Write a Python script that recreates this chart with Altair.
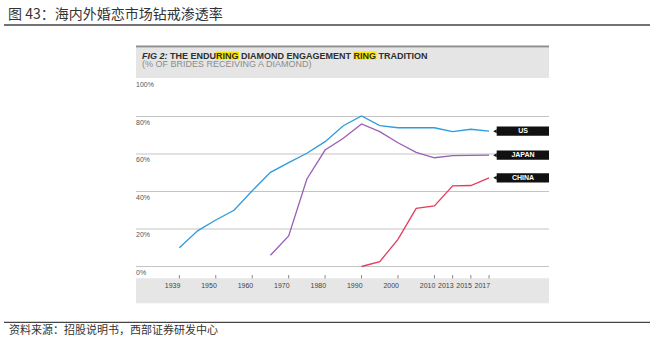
import altair as alt
import pandas as pd

# ---------------- data ----------------
positions = list(range(18))
year_labels = ["1939", "", "1950", "", "1960", "", "1970", "", "1980", "",
               "1990", "", "2000", "", "2010", "2013", "2015", "2017"]
us_values = [10, 19, 24.8, 30, 40.4, 50.2, 55.4, 60.4, 66.6, 75.1,
             80.3, 75.1, 74, 74, 74, 71.9, 73.2, 72.2]
japan_values = [None, None, None, None, None, 6, 16.3, 46.7, 62.1, 68.4,
                76, 71.9, 66, 60.9, 58, 59.1, 59.3, 59.4]
china_values = [None] * 10 + [0, 2.6, 14.5, 31, 32.3, 43, 43.2, 47.3]
series_names = ["US", "JAPAN", "CHINA"]
series_colors = ["#2e9bdb", "#9b5eb5", "#e63c5b"]
y_ticks = [0, 20, 40, 60, 80, 100]
y_tick_labels = ["0%", "20%", "40%", "60%", "80%", "100%"]
grid_values = [0, 20, 40, 60, 80]

title_cn = "图 43：海内外婚恋市场钻戒渗透率"
source_cn = "资料来源：招股说明书，西部证券研发中心"
fig_prefix = "FIG 2:"
fig_title = "THE ENDURING DIAMOND ENGAGEMENT RING TRADITION"
fig_subtitle = "(% OF BRIDES RECEIVING A DIAMOND)"

# ---------------- tables ----------------
rows = []
for name, vals in zip(series_names, [us_values, japan_values, china_values]):
    for p, v in zip(positions, vals):
        if v is not None:
            rows.append({"pos": p, "value": v, "series": name})
lines_df = pd.DataFrame(rows)
ends_df = lines_df[lines_df["pos"] == 17].copy()
ticks_df = pd.DataFrame({"pos": [p for p, l in zip(positions, year_labels) if l],
                         "label": [l for l in year_labels if l]})
ylab_df = pd.DataFrame({"value": y_ticks, "label": y_tick_labels})
grid_df = pd.DataFrame({"value": grid_values})
one = pd.DataFrame({"a": [0]})

W, H = 413, 187.5
xs = alt.Scale(domain=[-2.38, 20.29], nice=False, zero=False)
ys = alt.Scale(domain=[0, 100], nice=False, zero=False)
cs = alt.Scale(domain=series_names, range=series_colors)

# ---------------- decorations ----------------
def band(y0, y1, color):
    return alt.Chart(one).mark_rect(color=color).encode(
        x=alt.value(0), x2=alt.value(W), y=alt.value(y0), y2=alt.value(y1))

header_bg = band(-31.3, -1, "#e5e5e6")
header_line = alt.Chart(one).mark_rule(color="#8e8e8e", strokeWidth=2).encode(
    x=alt.value(0), x2=alt.value(W), y=alt.value(-32.5))
bottom_bg = band(199.3, 224.3, "#e6e6e7")

hl1 = alt.Chart(one).mark_rect(color="#ffe800").encode(
    x=alt.value(79.5), x2=alt.value(103), y=alt.value(-27.5), y2=alt.value(-19.3))
hl2 = alt.Chart(one).mark_rect(color="#ffe800").encode(
    x=alt.value(217), x2=alt.value(240.5), y=alt.value(-27.5), y2=alt.value(-19.3))

fig_a = alt.Chart(one).mark_text(align="left", baseline="middle", font="Liberation Sans",
                                 fontSize=9, fontWeight="bold", fontStyle="italic",
                                 color="#2e2e2e").encode(
    x=alt.value(6), y=alt.value(-23.3), text=alt.value(fig_prefix))
fig_b = alt.Chart(one).mark_text(align="left", baseline="middle", font="Liberation Sans",
                                 fontSize=9, fontWeight="bold", color="#2e2e2e").encode(
    x=alt.value(34), y=alt.value(-23.3), text=alt.value(fig_title))
fig_c = alt.Chart(one).mark_text(align="left", baseline="middle", font="Liberation Sans",
                                 fontSize=9, color="#8c8c8c").encode(
    x=alt.value(6), y=alt.value(-14.8), text=alt.value(fig_subtitle))

title_t = alt.Chart(one).mark_text(align="left", baseline="middle", font="Noto Sans CJK SC",
                                   fontSize=14, color="#333333").encode(
    x=alt.value(-128), y=alt.value(-64), text=alt.value(title_cn))
title_rule = alt.Chart(one).mark_rule(color="#444444", strokeWidth=1.3).encode(
    x=alt.value(-132), x2=alt.value(514), y=alt.value(-54))
foot_rule = alt.Chart(one).mark_rule(color="#444444", strokeWidth=1.3).encode(
    x=alt.value(-132), x2=alt.value(514), y=alt.value(243.3))
foot_t = alt.Chart(one).mark_text(align="left", baseline="middle", font="Noto Sans CJK SC",
                                  fontSize=11, color="#333333").encode(
    x=alt.value(-127), y=alt.value(252.3), text=alt.value(source_cn))

# ---------------- axes ----------------
grid = alt.Chart(grid_df).mark_rule(color="#c4c4c4", strokeWidth=1.2).encode(
    y=alt.Y("value:Q", scale=ys, axis=None), x=alt.value(0), x2=alt.value(W))
ylabels = alt.Chart(ylab_df).mark_text(align="left", baseline="middle", dy=6,
                                       font="Liberation Sans", fontSize=7,
                                       color="#555555").encode(
    y=alt.Y("value:Q", scale=ys, axis=None), x=alt.value(0), text="label:N")
xticks = alt.Chart(ticks_df).mark_rule(color="#8a8a8a", strokeWidth=1).encode(
    x=alt.X("pos:Q", scale=xs, axis=None), y=alt.value(196), y2=alt.value(199.5))
xlabels = alt.Chart(ticks_df).mark_text(align="right", baseline="middle", dx=1,
                                        font="Liberation Sans", fontSize=7,
                                        color="#444444").encode(
    x=alt.X("pos:Q", scale=xs, axis=None), y=alt.value(206.5), text="label:N")

# ---------------- series ----------------
lines = alt.Chart(lines_df).mark_line(strokeWidth=1.3).encode(
    x=alt.X("pos:Q", scale=xs, axis=None),
    y=alt.Y("value:Q", scale=ys, axis=None),
    color=alt.Color("series:N", scale=cs, legend=None),
    detail="series:N")

box = alt.Chart(ends_df).mark_rule(color="#111111", strokeWidth=9.3, strokeCap="butt").encode(
    y=alt.Y("value:Q", scale=ys, axis=None), x=alt.value(360.7), x2=alt.value(W))
pointer = alt.Chart(ends_df).mark_point(shape="triangle-left", filled=True, size=16,
                                        color="#111111", opacity=1).encode(
    y=alt.Y("value:Q", scale=ys, axis=None), x=alt.value(359))
box_text = alt.Chart(ends_df).mark_text(align="center", baseline="middle", font="Liberation Sans",
                                        fontSize=7, fontWeight="bold", color="white").encode(
    y=alt.Y("value:Q", scale=ys, axis=None), x=alt.value(387), text="series:N")

chart = alt.layer(
    header_bg, header_line, bottom_bg, hl1, hl2, fig_a, fig_b, fig_c,
    title_t, title_rule, foot_rule, foot_t,
    grid, ylabels, xticks, xlabels, lines, box, pointer, box_text
).properties(
    width=W, height=H,
    autosize=alt.AutoSizeParams(type="none"),
    padding={"left": 136, "top": 79, "right": 104, "bottom": 79.5},
    background="white",
).configure_view(stroke=None)

chart.save("out.html", embed_options={"renderer": "svg", "actions": False})
